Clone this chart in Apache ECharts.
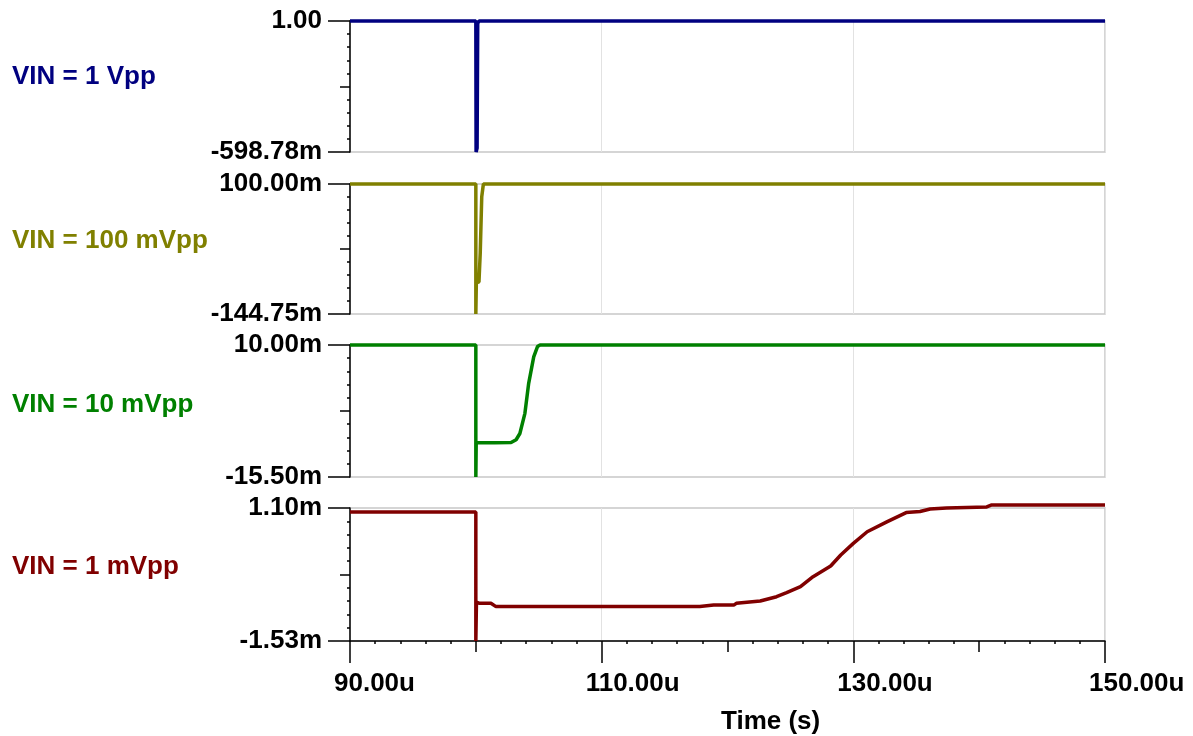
<!DOCTYPE html>
<html>
<head>
<meta charset="utf-8">
<script src="https://cdn.jsdelivr.net/npm/echarts@6/dist/echarts.min.js"></script>
<style>
html,body{margin:0;padding:0;background:#fff;}
#chart{width:1193px;height:736px;}
</style>
</head>
<body>
<div id="chart"></div>
<script>
// ---------------- DATA ----------------
const xTickValues = [90, 110, 130, 150];
const xTickLabels = ['90.00u', '110.00u', '130.00u', '150.00u'];
const xAxisTitle = 'Time (s)';

const panelNames = ['VIN = 1 Vpp', 'VIN = 100 mVpp', 'VIN = 10 mVpp', 'VIN = 1 mVpp'];
const panelColors = ['#000080', '#808000', '#008000', '#800000'];
const yMins = [-0.59878, -0.14475, -0.0155, -0.00153];
const yMaxs = [1.0, 0.1, 0.01, 0.0011];
const yMinLabels = ['-598.78m', '-144.75m', '-15.50m', '-1.53m'];
const yMaxLabels = ['1.00', '100.00m', '10.00m', '1.10m'];

// time in microseconds, value in volts
const vin1Vpp = [[90, 1.0], [100, 1.0], [100.02, -0.59878], [100.1, -0.55], [100.15, 0.97], [100.25, 1.0], [150, 1.0]];
const vin100mVpp = [[90, 0.1], [100, 0.1], [100, -0.14475], [100.04, -0.0863], [100.25, -0.0843], [100.35, -0.0296],
  [100.47, 0.076], [100.6, 0.1], [150, 0.1]];
const vin10mVpp = [[90, 0.01], [100, 0.01], [100, -0.0155], [100.03, -0.00887], [101.5, -0.00887], [102.8, -0.00885],
  [103.2, -0.0083], [103.5, -0.0071], [103.9, -0.0032], [104.2, 0.0026], [104.6, 0.0077], [104.9, 0.0097], [105.1, 0.01], [150, 0.01]];
const vin1mVpp = [[90, 0.00102], [100, 0.00102], [100, -0.00153], [100.05, -0.00076], [100.3, -0.000785], [101.2, -0.000785],
  [101.6, -0.00085], [117.8, -0.00085], [118.9, -0.00082], [120.5, -0.00082], [120.7, -0.000785], [122.6, -0.00074],
  [123.9, -0.000654], [124.7, -0.000575], [125.8, -0.000456], [126.8, -0.000259], [128.2, -0.000047], [129.0, 0.00017],
  [130.0, 0.0004], [131.1, 0.00063], [132.7, 0.00083], [134.2, 0.00101], [135.3, 0.00103], [136.1, 0.00108],
  [137.4, 0.0011], [140.6, 0.00112], [141.0, 0.00116], [150, 0.00116]];
const seriesData = [vin1Vpp, vin100mVpp, vin10mVpp, vin1mVpp];

// ---------------- LAYOUT ----------------
const FONT = '"Liberation Sans", Arial, Helvetica, sans-serif';
const FS = 26;
const gridLeft = 350, gridWidth = 755;
const gridTops = [21, 184, 345, 508];
const gridHeights = [131, 130, 132, 133];
const labelYs = [74, 238, 402, 564];

const grids = [], xAxes = [], yAxes = [], series = [];
for (let i = 0; i < 4; i++) {
  grids.push({left: gridLeft, top: gridTops[i], width: gridWidth, height: gridHeights[i],
    show: true, borderColor: '#c8c8c8', borderWidth: 1.5, backgroundColor: 'transparent', containLabel: false});
  const isBottom = i === 3;
  xAxes.push({
    type: 'value', gridIndex: i, min: 90, max: 150, position: 'bottom',
    axisLine: {show: isBottom, onZero: false, lineStyle: {color: '#000', width: 1.5}},
    axisTick: {show: isBottom, customValues: xTickValues, length: 22, lineStyle: {color: '#000', width: 1.5}},
    axisLabel: {show: isBottom, customValues: xTickValues, margin: 30, align: 'left', padding: [0, 0, 0, -16],
      formatter: v => xTickLabels[xTickValues.indexOf(v)] || '',
      color: '#000', fontSize: FS, fontWeight: 'bold', fontFamily: FONT},
    splitLine: {show: true, lineStyle: {color: '#e2e2e2', width: 1}}
  });
  const mn = yMins[i], mx = yMaxs[i];
  const mid = (mn + mx) / 2;
  const minors = [];
  for (let k = 1; k < 10; k++) if (k !== 5) minors.push(mn + (mx - mn) * k / 10);
  const base = {type: 'value', gridIndex: i, min: mn, max: mx, position: 'left', offset: 0};
  yAxes.push(Object.assign({}, base, {
    axisLine: {show: true, onZero: false, lineStyle: {color: '#000', width: 1.5}},
    axisTick: {show: true, customValues: [mn, mx], length: 22, lineStyle: {color: '#000', width: 1.5}},
    axisLabel: {show: true, customValues: [mn, mx], margin: 28, padding: [6, 0, 0, 0],
      formatter: v => (Math.abs(v - mn) < Math.abs(v - mx) ? yMinLabels[i] : yMaxLabels[i]),
      color: '#000', fontSize: FS, fontWeight: 'bold', fontFamily: FONT},
    splitLine: {show: false}
  }));
  yAxes.push(Object.assign({}, base, {
    axisLine: {show: false, onZero: false},
    axisTick: {show: true, customValues: [mid], length: 10, lineStyle: {color: '#000', width: 1.5}},
    axisLabel: {show: false}, splitLine: {show: false}
  }));
  yAxes.push(Object.assign({}, base, {
    axisLine: {show: false, onZero: false},
    axisTick: {show: true, customValues: minors, length: 3, lineStyle: {color: '#000', width: 1.5}},
    axisLabel: {show: false}, splitLine: {show: false}
  }));
  series.push({
    type: 'line', name: panelNames[i], xAxisIndex: i, yAxisIndex: 3 * i,
    data: seriesData[i], showSymbol: false, clip: false, animation: false,
    lineStyle: {color: panelColors[i], width: 3.5}, itemStyle: {color: panelColors[i]}
  });
}
// extra x tick layers on bottom panel
const midXTicks = [100, 120, 140];
const minorXTicks = [];
for (let t = 92; t < 150; t += 2) if (t % 10 !== 0) minorXTicks.push(t);
xAxes.push({type: 'value', gridIndex: 3, min: 90, max: 150, position: 'bottom',
  axisLine: {show: false, onZero: false}, axisTick: {show: true, customValues: midXTicks, length: 11, lineStyle: {color: '#000', width: 1.5}},
  axisLabel: {show: false}, splitLine: {show: false}});
xAxes.push({type: 'value', gridIndex: 3, min: 90, max: 150, position: 'bottom',
  axisLine: {show: false, onZero: false}, axisTick: {show: true, customValues: minorXTicks, length: 3, lineStyle: {color: '#000', width: 1.5}},
  axisLabel: {show: false}, splitLine: {show: false}});

const graphics = panelNames.map((n, i) => ({
  type: 'text', left: 12, top: labelYs[i] - 10,
  style: {text: n, fill: panelColors[i], font: 'bold ' + FS + 'px ' + FONT}
}));
graphics.push({type: 'text', left: 721, top: 709,
  style: {text: xAxisTitle, fill: '#000', font: 'bold ' + FS + 'px ' + FONT}});

const chart = echarts.init(document.getElementById('chart'), null, {renderer: 'canvas'});
chart.setOption({
  animation: false,
  backgroundColor: '#fff',
  grid: grids, xAxis: xAxes, yAxis: yAxes, series: series, graphic: graphics
});
</script>
</body>
</html>
